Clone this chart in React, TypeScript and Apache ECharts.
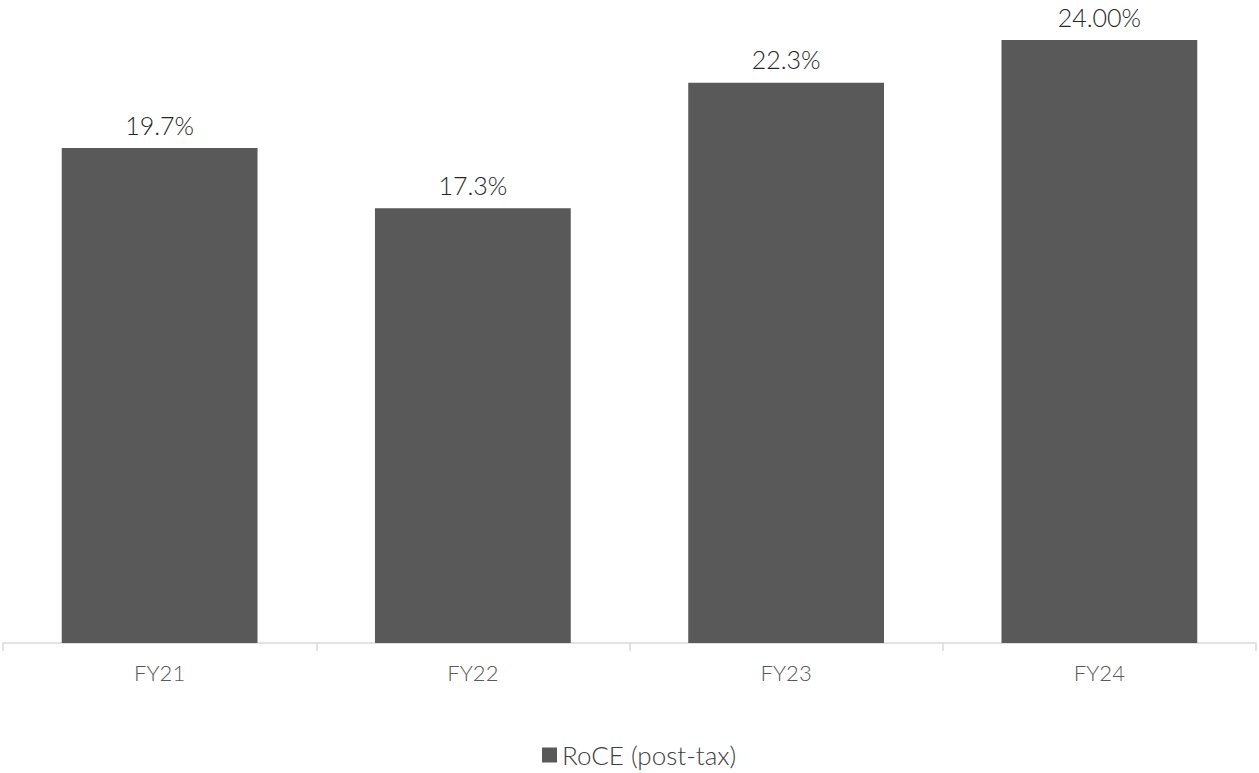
import React, { useEffect, useRef } from "react";
import * as echarts from "echarts";

const categories = ["FY21", "FY22", "FY23", "FY24"];
const roceValues = [19.7, 17.3, 22.3, 24.0];
const roceLabels = ["19.7%", "17.3%", "22.3%", "24.00%"];
const seriesName = "RoCE (post-tax)";

const FONT = "Lato, 'Open Sans', sans-serif";

export default function App() {
  const ref = useRef<HTMLDivElement>(null);
  useEffect(() => {
    if (!ref.current) return;
    const chart = echarts.init(ref.current, undefined, { renderer: "svg" });
    chart.setOption({
      animation: false,
      backgroundColor: "#ffffff",
      grid: { left: 3, right: 3, top: 40, bottom: 130, containLabel: false },
      legend: {
        data: [{ name: seriesName, icon: "rect" }],
        left: 542,
        top: 742,
        itemWidth: 15,
        itemHeight: 15,
        itemGap: 6,
        padding: 0,
        textStyle: { fontFamily: FONT, fontSize: 26, fontWeight: 300, color: "#404040", padding: [0, 0, 0, 0] },
      },
      xAxis: {
        type: "category",
        data: categories,
        axisLine: { show: true, lineStyle: { color: "#d9d9d9", width: 1.5 } },
        axisTick: { show: true, length: 8, alignWithLabel: false, lineStyle: { color: "#d9d9d9", width: 1.5 } },
        axisLabel: { fontFamily: FONT, fontSize: 22, fontWeight: 300, color: "#595959", margin: 18 },
      },
      yAxis: {
        type: "value",
        min: 0,
        max: 24,
        show: false,
        splitLine: { show: false },
      },
      series: [
        {
          name: seriesName,
          type: "bar",
          data: roceValues,
          barCategoryGap: "37.5%",
          itemStyle: { color: "#595959" },
          label: {
            show: true,
            position: "top",
            distance: 11,
            fontFamily: FONT,
            fontSize: 25,
            fontWeight: 300,
            color: "#262626",
            formatter: (p: any) => roceLabels[p.dataIndex],
          },
        },
      ],
    });
    return () => chart.dispose();
  }, []);
  return (
    <div
      ref={ref}
      style={{ position: "fixed", left: 0, top: 0, width: 1259, height: 773 }}
    />
  );
}
